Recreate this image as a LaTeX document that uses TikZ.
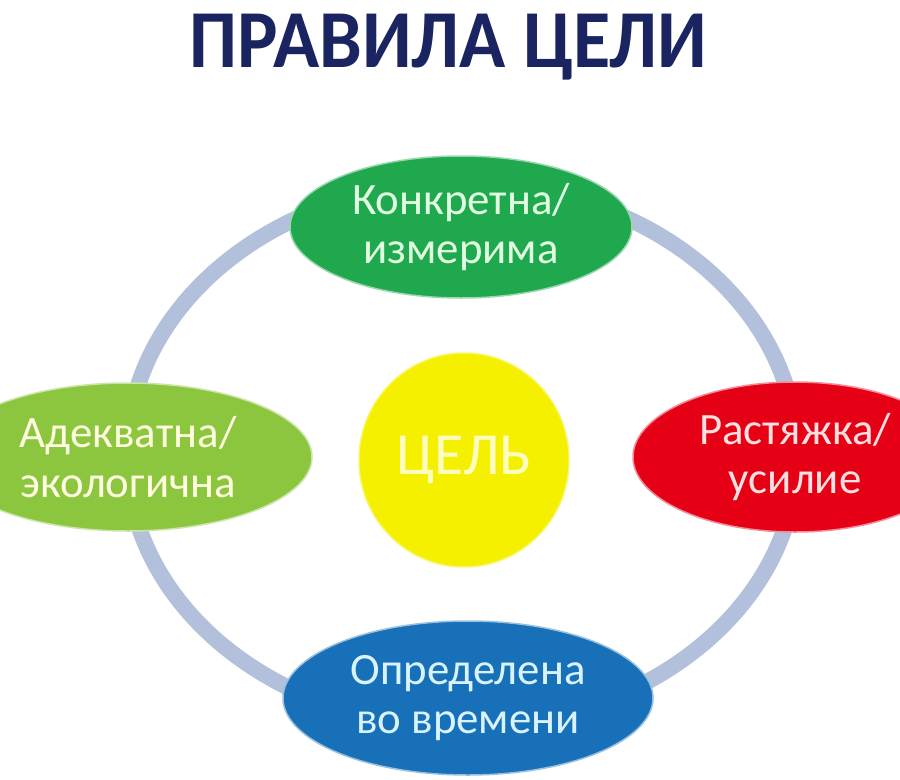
\documentclass[tikz,border=0pt]{standalone}
\usepackage{fontspec}
\setmainfont{Carlito}
\usetikzlibrary{shapes.geometric}

\definecolor{titleblue}{RGB}{26,36,96}
\definecolor{ringgray}{RGB}{178,192,220}
\definecolor{topgreen}{RGB}{32,168,78}
\definecolor{leftgreen}{RGB}{140,198,63}
\definecolor{goalyellow}{RGB}{244,240,0}
\definecolor{stretchred}{RGB}{230,0,22}
\definecolor{timeblue}{RGB}{24,112,184}

\tikzset{
  goal/.style={ellipse, inner sep=0pt, align=center,
    font=\fontsize{45}{50}\selectfont, line width=1.5bp},
}

\begin{document}
\begin{tikzpicture}[x=1bp,y=-1bp]
    %% Goal rules

    % Canvas
    \useasboundingbox[fill=white] (0,0) rectangle (900,780);

    % Title
    \node (title) at (448,47)
    {\fontsize{78}{80}\selectfont\bfseries\color{titleblue}
      \scalebox{0.98}[1.06]{ПРАВИЛА ЦЕЛИ}};

    % Ring
    \draw[ringgray,line width=16bp]
    (462,455) ellipse [x radius=335, y radius=272];

    % Centre
    \node[goal,fill=goalyellow,draw=goalyellow!60!white,
      minimum width=210bp,minimum height=214bp,
      text=yellow!25!white,font=\fontsize{60}{64}\selectfont]
    (cel) at (464,460) {ЦЕЛЬ};

    % Four rules
    \node[goal,fill=topgreen,draw=topgreen!45!white,
      minimum width=342bp,minimum height=142bp,text=green!12!white]
    (konkret) at (461,227) {Конкретна/\\измерима};

    \node[goal,fill=leftgreen,draw=leftgreen!45!white,
      minimum width=368bp,minimum height=148bp,text=yellow!12!white]
    (adekvat) at (128,457) {Адекватна/\\экологична};

    \node[goal,fill=stretchred,draw=stretchred!45!white,
      minimum width=324bp,minimum height=150bp,text=red!12!white]
    (rast) at (795,457) {Растяжка/\\усилие};

    \node[goal,fill=timeblue,draw=timeblue!45!white,
      minimum width=370bp,minimum height=154bp,text=cyan!15!white]
    (opred) at (468,698) {Определена\\во времени};

\end{tikzpicture}
\end{document}
